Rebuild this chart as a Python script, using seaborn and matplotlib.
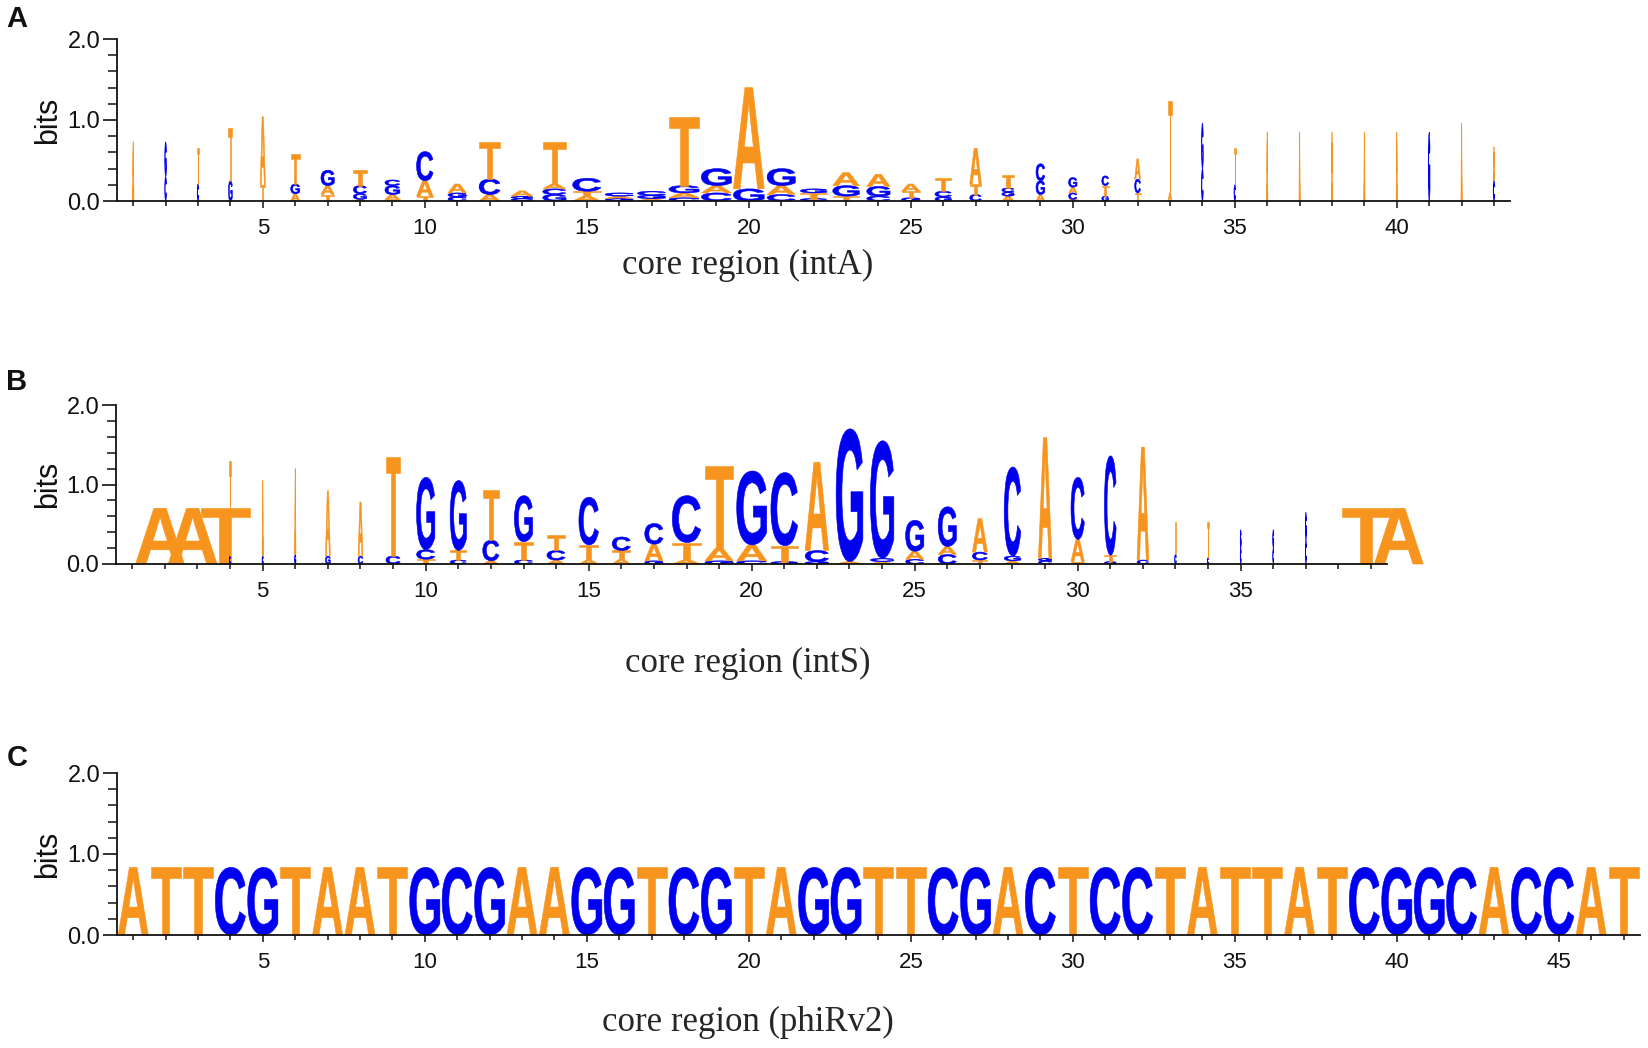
import matplotlib
matplotlib.use('Agg')
import matplotlib.pyplot as plt
import seaborn as sns
from matplotlib.textpath import TextPath
from matplotlib.font_manager import FontProperties
from matplotlib.patches import PathPatch
from matplotlib.transforms import Affine2D
from matplotlib.ticker import MultipleLocator, FormatStrFormatter

# panel A (intA): column width (share of a position) and letter stacks, bottom -> top, heights in bits
a_widths = [0.05, 0.05, 0.05, 0.12, 0.16, 0.28, 0.41, 0.41, 0.46, 0.51,
            0.57, 0.65, 0.67, 0.72, 0.87, 0.87, 0.87, 0.93, 0.93, 0.95,
            0.87, 0.82, 0.82, 0.72, 0.57, 0.51, 0.36, 0.38, 0.27, 0.26,
            0.21, 0.18, 0.12, 0.05, 0.05, 0.04, 0.04, 0.04, 0.04, 0.04,
            0.05, 0.04, 0.05]
a_stacks = [
    [('A', 0.73)],
    [('C', 0.30), ('G', 0.43)],
    [('C', 0.21), ('T', 0.44)],
    [('G', 0.25), ('T', 0.65)],
    [('T', 0.20), ('A', 0.84)],
    [('A', 0.09), ('G', 0.12), ('T', 0.37)],
    [('T', 0.08), ('A', 0.11), ('G', 0.19)],
    [('A', 0.02), ('G', 0.07), ('C', 0.10), ('T', 0.19)],
    [('T', 0.02), ('A', 0.06), ('G', 0.11), ('C', 0.07)],
    [('T', 0.06), ('A', 0.19), ('C', 0.36)],
    [('C', 0.05), ('G', 0.05), ('A', 0.11)],
    [('A', 0.08), ('C', 0.19), ('T', 0.46)],
    [('C', 0.03), ('G', 0.03), ('A', 0.065)],
    [('G', 0.08), ('C', 0.07), ('A', 0.06), ('T', 0.52)],
    [('A', 0.06), ('T', 0.06), ('C', 0.16)],
    [('G', 0.03), ('A', 0.03), ('C', 0.04)],
    [('A', 0.03), ('G', 0.04), ('C', 0.05)],
    [('C', 0.04), ('A', 0.06), ('G', 0.09), ('T', 0.85)],
    [('C', 0.10), ('A', 0.09), ('G', 0.21)],
    [('G', 0.15), ('A', 1.25)],
    [('C', 0.08), ('A', 0.11), ('G', 0.21)],
    [('C', 0.03), ('T', 0.07), ('G', 0.05)],
    [('T', 0.06), ('G', 0.13), ('A', 0.16)],
    [('C', 0.06), ('G', 0.12), ('A', 0.15)],
    [('G', 0.04), ('T', 0.08), ('A', 0.09)],
    [('G', 0.05), ('C', 0.07), ('T', 0.16)],
    [('C', 0.08), ('T', 0.13), ('A', 0.44)],
    [('A', 0.06), ('G', 0.05), ('C', 0.05), ('T', 0.16)],
    [('A', 0.08), ('G', 0.17), ('C', 0.21)],
    [('T', 0.02), ('C', 0.08), ('A', 0.07), ('G', 0.12)],
    [('G', 0.06), ('T', 0.13), ('C', 0.12)],
    [('T', 0.10), ('C', 0.17), ('A', 0.25)],
    [('A', 0.10), ('T', 1.14)],
    [('C', 0.40), ('G', 0.56)],
    [('C', 0.20), ('T', 0.45)],
    [('A', 0.85)],
    [('A', 0.85)],
    [('A', 0.85)],
    [('A', 0.85)],
    [('A', 0.85)],
    [('G', 0.85)],
    [('A', 0.96)],
    [('C', 0.25), ('A', 0.42)],
]

# panel B (intS)
b_widths = [1.5, 1.5, 1.5, 0.05, 0.04, 0.04, 0.15, 0.15, 0.44, 0.56,
            0.5, 0.5, 0.56, 0.56, 0.6, 0.56, 0.56, 0.87, 0.87, 0.92,
            0.82, 0.72, 0.82, 0.72, 0.56, 0.56, 0.46, 0.51, 0.41, 0.41,
            0.36, 0.36, 0.05, 0.05, 0.03, 0.03, 0.03, 1.5, 1.5]
b_stacks = [
    [('A', 0.70)],
    [('A', 0.70)],
    [('T', 0.70)],
    [('C', 0.10), ('T', 1.20)],
    [('C', 0.10), ('A', 0.95)],
    [('G', 0.12), ('A', 1.08)],
    [('G', 0.10), ('A', 0.82)],
    [('C', 0.10), ('A', 0.68)],
    [('C', 0.10), ('T', 1.24)],
    [('T', 0.06), ('C', 0.12), ('G', 0.91)],
    [('C', 0.05), ('T', 0.12), ('G', 0.88)],
    [('A', 0.04), ('C', 0.26), ('T', 0.63)],
    [('C', 0.05), ('T', 0.23), ('G', 0.58)],
    [('A', 0.05), ('C', 0.12), ('T', 0.19)],
    [('A', 0.05), ('T', 0.19), ('C', 0.60)],
    [('A', 0.06), ('T', 0.11), ('C', 0.17)],
    [('G', 0.04), ('A', 0.21), ('C', 0.26)],
    [('A', 0.05), ('T', 0.22), ('C', 0.59)],
    [('G', 0.04), ('A', 0.16), ('T', 1.03)],
    [('C', 0.04), ('A', 0.20), ('G', 0.93)],
    [('G', 0.03), ('T', 0.20), ('C', 0.92)],
    [('G', 0.03), ('C', 0.14), ('A', 1.11)],
    [('A', 0.03), ('G', 1.67)],
    [('A', 0.03), ('C', 0.04), ('G', 1.48)],
    [('C', 0.06), ('A', 0.10), ('G', 0.39)],
    [('C', 0.12), ('A', 0.10), ('G', 0.50)],
    [('T', 0.05), ('C', 0.10), ('A', 0.42)],
    [('A', 0.04), ('G', 0.06), ('C', 1.12)],
    [('C', 0.04), ('G', 0.03), ('A', 1.52)],
    [('T', 0.03), ('A', 0.28), ('C', 0.78)],
    [('G', 0.03), ('T', 0.08), ('C', 1.25)],
    [('C', 0.05), ('A', 1.42)],
    [('C', 0.12), ('T', 0.41)],
    [('C', 0.08), ('T', 0.45)],
    [('C', 0.20), ('G', 0.23)],
    [('C', 0.20), ('G', 0.23)],
    [('C', 0.30), ('G', 0.35)],
    [('T', 0.70)],
    [('A', 0.70)],
]

# panel C (phiRv2): fully conserved sequence
c_sequence = 'ATTCGTAATGCGAAGGTCGTAGGTTCGACTCCTATTATCGGCACCAT'
c_height = 0.835
c_width = 0.93

colors = {'A': '#F7941D', 'T': '#F7941D', 'C': '#0000F0', 'G': '#0000F0'}

sns.set_theme(style='ticks')
plt.rcParams['font.family'] = ['Liberation Sans', 'DejaVu Sans']

glyph_font = FontProperties(family='Liberation Sans', weight='bold')


def draw_letter(ax, ch, x0, y0, w, h):
    path = TextPath((0, 0), ch, size=1, prop=glyph_font)
    bb = path.get_extents()
    tr = Affine2D().translate(-bb.x0, -bb.y0).scale(w / bb.width, h / bb.height).translate(x0, y0)
    # thin outline in the fill colour keeps the hairline columns visible
    ax.add_patch(PathPatch(tr.transform_path(path), fc=colors[ch], ec=colors[ch], lw=0.4, clip_on=False))


def draw_logo(ax, widths, stacks):
    for pos, (w, stack) in enumerate(zip(widths, stacks), start=1):
        # the wide (gap-weighted) columns sit to the right of their position
        x0 = pos - w / 2 if w <= 1 else pos + 0.1
        y0 = 0
        for ch, h in stack:
            draw_letter(ax, ch, x0, y0, w, h)
            y0 += h


def style(ax, n):
    ax.set_xlim(0.5, n + 0.5)
    ax.set_ylim(0, 2)
    sns.despine(ax=ax)
    for s in ['left', 'bottom']:
        ax.spines[s].set_linewidth(1.3)
        ax.spines[s].set_color('#111111')
    ax.xaxis.set_major_locator(MultipleLocator(5))
    ax.xaxis.set_minor_locator(MultipleLocator(1))
    ax.yaxis.set_major_locator(MultipleLocator(1))
    ax.yaxis.set_minor_locator(MultipleLocator(0.2))
    ax.yaxis.set_major_formatter(FormatStrFormatter('%.1f'))
    ax.tick_params(axis='y', which='major', length=10, width=1.2, pad=2, labelsize=17, color='#111111', labelcolor='#111111')
    ax.tick_params(axis='y', which='minor', length=6.5, width=1.1, color='#111111')
    ax.tick_params(axis='x', which='major', length=5, width=1.1, pad=7, labelsize=16, color='#111111', labelcolor='#111111')
    ax.tick_params(axis='x', which='minor', length=3.8, width=1.1, color='#111111')
    ax.grid(False)


W, H = 1649, 1048
fig = plt.figure(figsize=(W / 100, H / 100), dpi=100)
fig.patch.set_facecolor('white')

ax_a = fig.add_axes([117 / W, 1 - 201 / H, 43 * 32.4 / W, 162 / H])
ax_b = fig.add_axes([116 / W, 1 - 564 / H, 39 * 32.6 / W, 159 / H])
ax_c = fig.add_axes([117 / W, 1 - 935 / H, 47 * 32.4 / W, 162 / H])

draw_logo(ax_a, a_widths, a_stacks)
draw_logo(ax_b, b_widths, b_stacks)
draw_logo(ax_c, [c_width] * len(c_sequence), [[(ch, c_height)] for ch in c_sequence])

style(ax_a, len(a_widths))
style(ax_b, len(b_widths))
style(ax_c, len(c_sequence))

serif = ['Liberation Serif', 'DejaVu Serif']
fig.text(748 / W, 1 - 265 / H, 'core region (intA)', family=serif, fontsize=25, ha='center', va='center')
fig.text(748 / W, 1 - 663 / H, 'core region (intS)', family=serif, fontsize=25, ha='center', va='center')
fig.text(748 / W, 1 - 1022 / H, 'core region (phiRv2)', family=serif, fontsize=25, ha='center', va='center')

for yc in [120, 484.5, 854]:
    fig.text(48 / W, 1 - yc / H, 'bits', fontsize=22, rotation=90, ha='center', va='center', color='#111111')

for lab, yc in [('A', 19), ('B', 382), ('C', 758)]:
    fig.text(17 / W, 1 - yc / H, lab, fontsize=21, fontweight='bold', ha='center', va='center', color='#111111')

fig.savefig('out.png', dpi=100, facecolor='white')
